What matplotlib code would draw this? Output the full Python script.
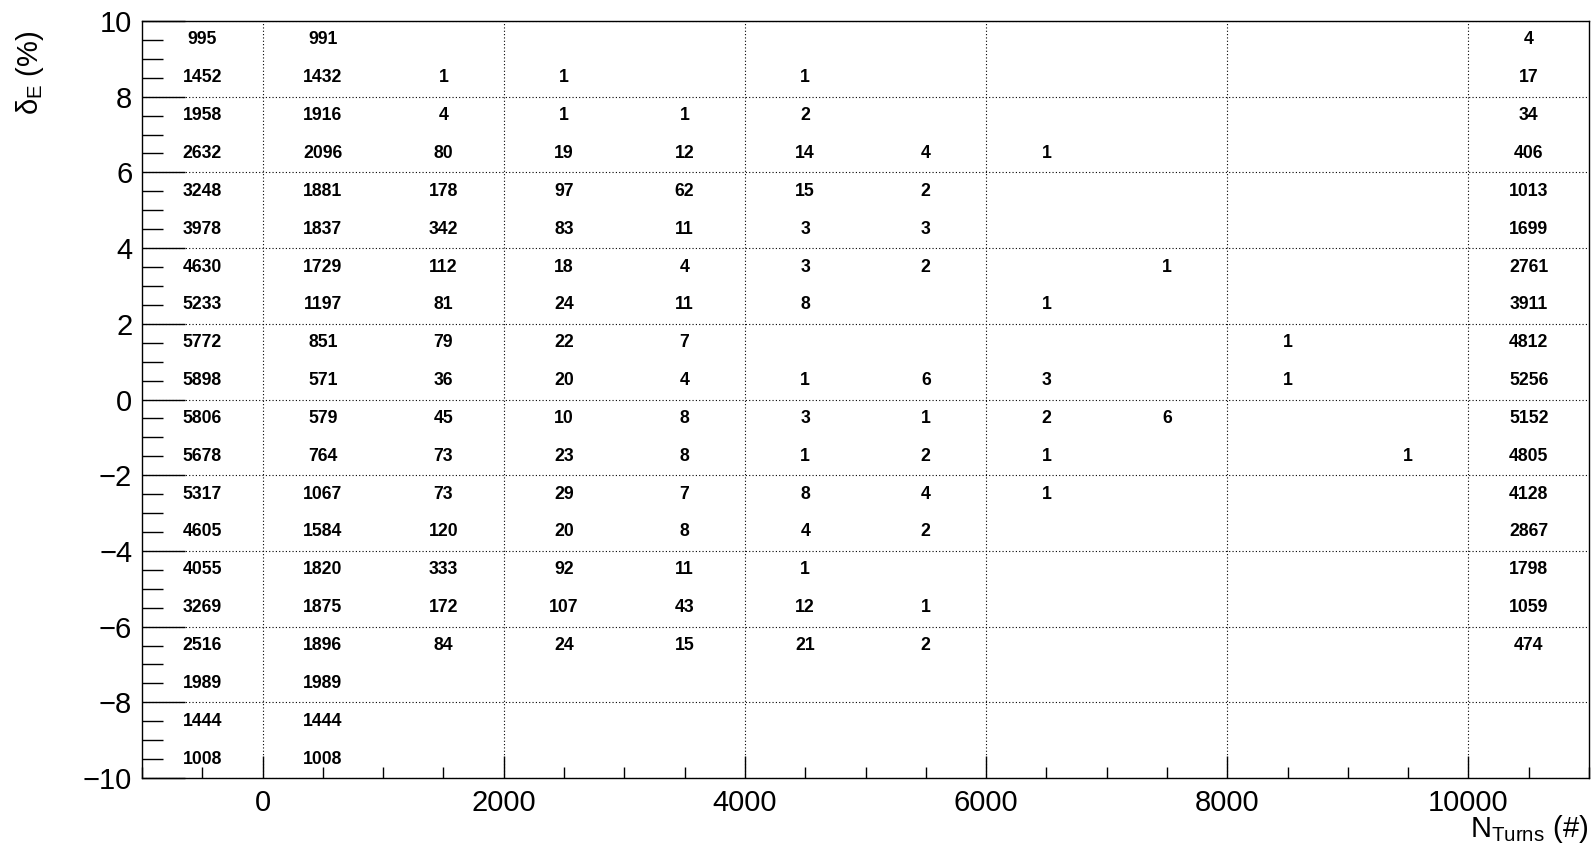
#===================================================================================
#=================================== Load Packages =================================
#===================================================================================

import numpy as np
import matplotlib
matplotlib.use("Agg")
import matplotlib.pyplot as plt
from matplotlib.ticker import MultipleLocator

plt.rcParams['font.family'] = ['Liberation Sans', 'DejaVu Sans']
plt.rcParams['mathtext.fontset'] = 'custom'
plt.rcParams['mathtext.rm'] = 'Liberation Sans'
plt.rcParams['mathtext.it'] = 'Liberation Sans'

#===================================================================================
#=================================== Data ==========================================
#===================================================================================

# bin edges of the 2D histogram
x_edges = np.arange(-1000, 11001, 1000)   # N_Turns
y_edges = np.arange(-10, 11, 1)           # delta_E (%)

# counts per row, top row (9 .. 10 %) first; 0 = empty bin
row_p9 = [995, 991, 0, 0, 0, 0, 0, 0, 0, 0, 0, 4]
row_p8 = [1452, 1432, 1, 1, 0, 1, 0, 0, 0, 0, 0, 17]
row_p7 = [1958, 1916, 4, 1, 1, 2, 0, 0, 0, 0, 0, 34]
row_p6 = [2632, 2096, 80, 19, 12, 14, 4, 1, 0, 0, 0, 406]
row_p5 = [3248, 1881, 178, 97, 62, 15, 2, 0, 0, 0, 0, 1013]
row_p4 = [3978, 1837, 342, 83, 11, 3, 3, 0, 0, 0, 0, 1699]
row_p3 = [4630, 1729, 112, 18, 4, 3, 2, 0, 1, 0, 0, 2761]
row_p2 = [5233, 1197, 81, 24, 11, 8, 0, 1, 0, 0, 0, 3911]
row_p1 = [5772, 851, 79, 22, 7, 0, 0, 0, 0, 1, 0, 4812]
row_p0 = [5898, 571, 36, 20, 4, 1, 6, 3, 0, 1, 0, 5256]
row_m1 = [5806, 579, 45, 10, 8, 3, 1, 2, 6, 0, 0, 5152]
row_m2 = [5678, 764, 73, 23, 8, 1, 2, 1, 0, 0, 1, 4805]
row_m3 = [5317, 1067, 73, 29, 7, 8, 4, 1, 0, 0, 0, 4128]
row_m4 = [4605, 1584, 120, 20, 8, 4, 2, 0, 0, 0, 0, 2867]
row_m5 = [4055, 1820, 333, 92, 11, 1, 0, 0, 0, 0, 0, 1798]
row_m6 = [3269, 1875, 172, 107, 43, 12, 1, 0, 0, 0, 0, 1059]
row_m7 = [2516, 1896, 84, 24, 15, 21, 2, 0, 0, 0, 0, 474]
row_m8 = [1989, 1989, 0, 0, 0, 0, 0, 0, 0, 0, 0, 0]
row_m9 = [1444, 1444, 0, 0, 0, 0, 0, 0, 0, 0, 0, 0]
row_m10 = [1008, 1008, 0, 0, 0, 0, 0, 0, 0, 0, 0, 0]

counts = np.array([row_p9, row_p8, row_p7, row_p6, row_p5, row_p4, row_p3,
                   row_p2, row_p1, row_p0, row_m1, row_m2, row_m3, row_m4,
                   row_m5, row_m6, row_m7, row_m8, row_m9, row_m10])

x_centers = 0.5 * (x_edges[:-1] + x_edges[1:])
y_centers = (0.5 * (y_edges[:-1] + y_edges[1:]))[::-1]

#===================================================================================
#=================================== Plot ==========================================
#===================================================================================

fig = plt.figure(figsize=(15.94, 8.48), dpi=100)
ax = fig.add_axes([142 / 1594, 1 - 778 / 848, (1589 - 142) / 1594, (778 - 21) / 848])

ax.set_xlim(x_edges[0], x_edges[-1])
ax.set_ylim(y_edges[0], y_edges[-1])

# ROOT "TEXT" draw option: bin content printed at bin centre
for i, yc in enumerate(y_centers):
    for j, xc in enumerate(x_centers):
        if counts[i, j] > 0:
            ax.text(xc, yc, str(counts[i, j]), ha='center', va='center',
                    fontsize=12.7, fontweight='bold')

ax.xaxis.set_major_locator(MultipleLocator(2000))
ax.xaxis.set_minor_locator(MultipleLocator(500))
ax.yaxis.set_major_locator(MultipleLocator(2))
ax.yaxis.set_minor_locator(MultipleLocator(0.5))

ax.tick_params(axis='both', which='both', direction='in', top=False, right=False,
               labelsize=21, width=1.0)
ax.tick_params(axis='x', which='major', length=16, pad=8)
ax.tick_params(axis='x', which='minor', length=8)
ax.tick_params(axis='y', which='major', length=31, pad=7)
ax.tick_params(axis='y', which='minor', length=15)

ax.grid(True, which='major', color='black', linestyle=(0, (1, 2)), linewidth=0.8)
for s in ax.spines.values():
    s.set_linewidth(1.0)

fig.text(1588 / 1594, 1 - 837 / 848, r'N$_{\rm Turns}$ (#)', ha='right', va='baseline',
         fontsize=21)
fig.text(30 / 1594, 1 - 30 / 848, r'δ$_{\rm E}$ (%)', ha='center', va='top',
         rotation=90, fontsize=21)

fig.savefig('out.png', dpi=100)
